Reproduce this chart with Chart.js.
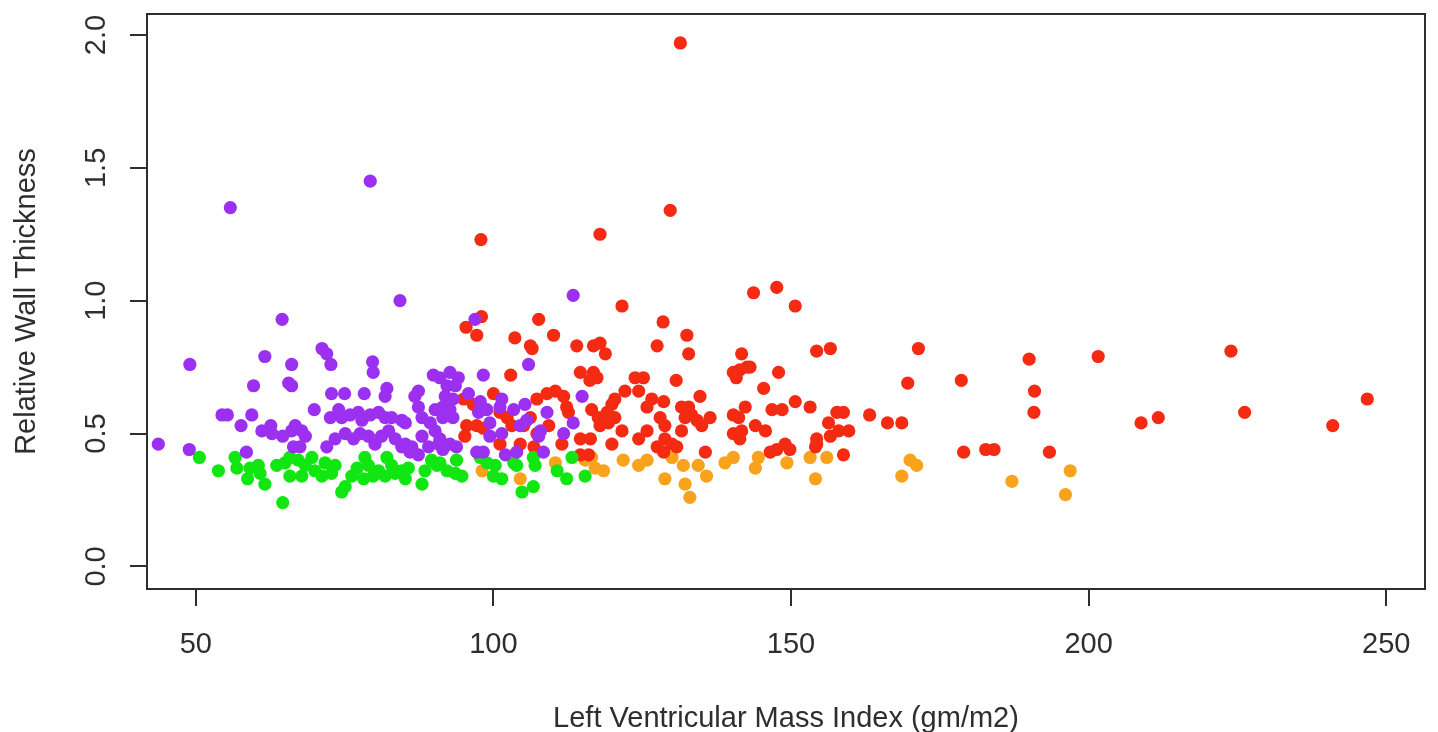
<!DOCTYPE html>
<html>
<head>
<meta charset="utf-8">
<script src="https://cdn.jsdelivr.net/npm/chart.js@4/dist/chart.umd.min.js"></script>
<style>
    body { margin: 0; background: #fff; }
    canvas { display: block; }
</style>
</head>
<body>
<canvas id="myChart" width="1438" height="732"></canvas>
<script>
// [LVMI, RWT] pairs, one array per group
const purplePts = [
    [55.8, 1.35], [79.3, 1.45], [84.3, 1.00], [113.4, 1.02], [64.5, 0.93], [96.9, 0.93],
    [49.0, 0.76], [61.6, 0.79], [66.1, 0.76], [59.7, 0.68], [65.6, 0.69], [66.1, 0.68],
    [54.4, 0.57], [55.3, 0.57], [59.4, 0.57], [57.6, 0.53], [61.1, 0.51], [62.6, 0.53],
    [62.8, 0.50], [64.6, 0.49], [66.1, 0.51], [66.4, 0.45], [43.7, 0.46], [48.9, 0.44], [58.5, 0.43],
    [71.2, 0.82], [72.0, 0.80], [72.7, 0.76], [79.7, 0.77], [79.8, 0.73], [89.9, 0.72],
    [72.8, 0.65], [75.0, 0.65], [78.3, 0.65], [82.1, 0.67], [81.8, 0.64], [87.4, 0.66],
    [86.8, 0.64], [87.4, 0.60], [69.9, 0.59], [74.0, 0.59], [72.6, 0.56], [74.5, 0.56],
    [75.9, 0.57], [77.3, 0.58], [77.9, 0.55], [79.3, 0.57], [80.7, 0.58], [81.8, 0.56],
    [82.9, 0.56], [84.6, 0.55], [85.2, 0.54], [88.0, 0.56], [89.4, 0.54], [90.2, 0.59],
    [66.7, 0.53], [67.8, 0.51], [68.4, 0.49], [67.5, 0.45], [72.0, 0.45], [73.4, 0.48],
    [75.1, 0.50], [76.5, 0.48], [77.6, 0.50], [79.0, 0.49], [80.1, 0.46], [81.2, 0.49],
    [82.4, 0.51], [83.5, 0.48], [85.2, 0.46], [86.3, 0.45], [88.0, 0.49], [89.1, 0.45],
    [90.2, 0.51], [90.8, 0.46], [84.6, 0.45], [86.0, 0.43], [87.4, 0.42],
    [105.9, 0.76], [98.3, 0.72], [91.0, 0.71], [92.7, 0.73], [94.1, 0.71], [92.2, 0.68],
    [93.6, 0.68], [91.9, 0.64], [93.2, 0.63], [91.5, 0.60], [92.7, 0.59], [91.5, 0.56],
    [93.2, 0.56], [95.8, 0.65], [97.8, 0.62], [97.5, 0.58], [98.9, 0.59], [101.4, 0.63],
    [101.1, 0.60], [103.4, 0.59], [105.3, 0.61], [105.6, 0.55], [104.5, 0.53], [109.0, 0.58],
    [107.9, 0.51], [107.6, 0.49], [99.4, 0.54], [99.4, 0.49], [101.4, 0.50], [111.8, 0.50],
    [113.4, 0.54], [114.9, 0.64], [91.0, 0.48], [92.7, 0.46], [91.5, 0.44], [93.8, 0.45],
    [97.2, 0.43], [98.3, 0.43], [102.0, 0.42], [103.9, 0.43], [108.4, 0.43]
];

const greenPts = [
    [50.6, 0.41], [53.8, 0.36], [56.6, 0.41], [56.9, 0.37], [58.7, 0.33], [59.1, 0.37],
    [60.5, 0.38], [60.8, 0.35], [61.6, 0.31], [63.6, 0.38], [65.0, 0.39], [65.8, 0.41],
    [65.8, 0.34], [64.6, 0.24],
    [67.2, 0.40], [68.4, 0.38], [67.8, 0.34], [69.5, 0.41], [70.0, 0.36], [71.7, 0.39],
    [71.2, 0.34], [72.8, 0.35], [73.4, 0.38], [75.1, 0.30], [74.5, 0.28], [76.2, 0.34],
    [77.1, 0.37], [78.4, 0.41], [79.0, 0.38], [78.2, 0.33], [79.8, 0.34], [80.7, 0.36],
    [82.1, 0.41], [82.9, 0.38], [81.8, 0.34], [83.5, 0.35], [84.6, 0.36], [85.7, 0.37],
    [85.2, 0.33], [88.0, 0.31], [88.5, 0.36], [89.6, 0.40], [90.5, 0.38],
    [91.0, 0.39], [92.2, 0.36], [93.8, 0.40], [93.6, 0.35], [94.7, 0.34], [97.8, 0.41],
    [98.9, 0.39], [100.3, 0.38], [100.0, 0.34], [101.4, 0.33], [103.4, 0.39], [103.9, 0.38],
    [104.8, 0.28], [106.7, 0.30], [106.7, 0.41], [107.0, 0.38], [110.7, 0.36], [112.3, 0.33],
    [113.2, 0.41], [115.4, 0.34]
];

const redPts = [
    [131.4, 1.97], [129.7, 1.34], [117.9, 1.25], [97.9, 1.23], [121.6, 0.98], [143.7, 1.03],
    [147.6, 1.05], [150.7, 0.98], [98.0, 0.94], [95.4, 0.90], [97.2, 0.87], [107.6, 0.93], [128.5, 0.92],
    [103.6, 0.86], [106.2, 0.83], [106.5, 0.82], [110.1, 0.87], [114.0, 0.83], [102.9, 0.72],
    [114.6, 0.73], [95.0, 0.63], [96.6, 0.61], [100.0, 0.65], [101.1, 0.58], [102.3, 0.56],
    [103.1, 0.53], [95.5, 0.53], [97.2, 0.53], [98.3, 0.52], [95.2, 0.49], [107.3, 0.63],
    [109.0, 0.65], [110.4, 0.66], [111.8, 0.64], [112.3, 0.60], [112.6, 0.58], [106.2, 0.56],
    [105.1, 0.53], [109.3, 0.53], [107.3, 0.50], [106.8, 0.45], [101.1, 0.46], [104.5, 0.46],
    [114.6, 0.48], [114.6, 0.42], [111.5, 0.46],
    [132.5, 0.87], [116.8, 0.83], [117.9, 0.84], [118.8, 0.80], [127.5, 0.83], [132.8, 0.80],
    [116.8, 0.73], [116.2, 0.70], [117.4, 0.71], [123.8, 0.71], [125.2, 0.71], [124.4, 0.66],
    [122.1, 0.66], [130.7, 0.70], [134.7, 0.64], [120.4, 0.63], [119.9, 0.61], [119.1, 0.58],
    [120.4, 0.56], [116.5, 0.59], [117.6, 0.56], [117.9, 0.53], [119.3, 0.54], [121.6, 0.51],
    [119.9, 0.46], [116.3, 0.48], [116.0, 0.42], [126.6, 0.63], [128.6, 0.62], [125.8, 0.60],
    [128.0, 0.56], [128.8, 0.53], [125.8, 0.51], [124.4, 0.48], [127.5, 0.45], [128.8, 0.48],
    [130.0, 0.46], [130.8, 0.45], [128.6, 0.43], [131.6, 0.51], [131.6, 0.60], [132.8, 0.60],
    [133.3, 0.57], [132.2, 0.56], [134.2, 0.55], [135.0, 0.53], [136.4, 0.56], [135.6, 0.43],
    [141.7, 0.80], [154.3, 0.81], [156.6, 0.82], [140.3, 0.73], [141.4, 0.74], [142.6, 0.75],
    [143.1, 0.75], [140.8, 0.71], [147.9, 0.73], [145.4, 0.67], [150.7, 0.62], [153.2, 0.60],
    [140.3, 0.57], [142.3, 0.60], [141.2, 0.56], [146.8, 0.59], [148.5, 0.59], [144.0, 0.53],
    [145.7, 0.51], [140.3, 0.50], [141.7, 0.51], [141.4, 0.48], [146.5, 0.43], [147.6, 0.44],
    [149.0, 0.46], [149.8, 0.44], [154.3, 0.46], [154.1, 0.45], [154.3, 0.48], [156.6, 0.49],
    [158.0, 0.51], [159.7, 0.51], [156.3, 0.54], [157.7, 0.58], [158.8, 0.58], [158.8, 0.42],
    [163.2, 0.57], [171.4, 0.82], [169.6, 0.69], [178.6, 0.70], [166.2, 0.54], [168.6, 0.54],
    [179.0, 0.43], [182.7, 0.44], [184.1, 0.44], [190.0, 0.78], [190.9, 0.66], [190.8, 0.58],
    [193.4, 0.43], [201.6, 0.79], [208.8, 0.54], [211.7, 0.56], [223.9, 0.81], [226.2, 0.58],
    [241.0, 0.53], [246.8, 0.63]
];

const orangePts = [
    [98.1, 0.36], [104.5, 0.33], [110.4, 0.39], [115.4, 0.40], [116.5, 0.41], [117.1, 0.37],
    [118.5, 0.36], [121.8, 0.40], [124.4, 0.38], [125.8, 0.40], [128.8, 0.33], [130.0, 0.41],
    [131.9, 0.38], [132.2, 0.31], [133.0, 0.26], [134.4, 0.38], [135.8, 0.34], [138.9, 0.39],
    [140.3, 0.41], [144.5, 0.41], [144.0, 0.37], [149.3, 0.39], [153.2, 0.41], [154.1, 0.33],
    [156.0, 0.41], [170.0, 0.40], [171.1, 0.38], [168.6, 0.34], [187.1, 0.32], [196.9, 0.36],
    [196.1, 0.27]
];

const xTicks = [50, 100, 150, 200, 250];
const yTicks = [0, 0.5, 1.0, 1.5, 2.0];

const xTitle = 'Left Ventricular Mass Index (gm/m2)';
const yTitle = 'Relative Wall Thickness';

const inkColor = '#2e2e2e';
const axisFont = { family: "'Liberation Sans', Arial, sans-serif", size: 29 };

function toPoints(pairs) {
    return pairs.map(p => ({ x: p[0], y: p[1] }));
}

function makeSet(pairs, color) {
    return {
        data: toPoints(pairs),
        backgroundColor: color,
        borderWidth: 0,
        pointRadius: 6.6,
        pointHoverRadius: 6.6
    };
}

// R-style box round the plot area
const boxPlugin = {
    id: 'box',
    afterDraw(chart) {
        const { ctx, chartArea: a } = chart;
        ctx.save();
        ctx.strokeStyle = inkColor;
        ctx.lineWidth = 2;
        ctx.strokeRect(a.left, a.top, a.right - a.left, a.bottom - a.top);
        ctx.restore();
    }
};

const ctx = document.getElementById('myChart').getContext('2d');

new Chart(ctx, {
    type: 'scatter',
    data: {
        datasets: [
            makeSet(purplePts, '#9b30f0'),
            makeSet(greenPts, '#12e612'),
            makeSet(redPts, '#f42a12'),
            makeSet(orangePts, '#f9a21c')
        ]
    },
    options: {
        responsive: false,
        animation: false,
        events: [],
        layout: { padding: { top: 14, right: 13, left: 0, bottom: 0 } },
        plugins: {
            legend: { display: false },
            tooltip: { enabled: false }
        },
        scales: {
            x: {
                type: 'linear',
                min: 41.8,
                max: 256.5,
                afterBuildTicks: s => { s.ticks = xTicks.map(v => ({ value: v })); },
                afterFit: s => { s.height = 143; s.paddingLeft = 0; s.paddingRight = 0; },
                ticks: {
                    color: inkColor,
                    font: axisFont,
                    padding: 22,
                    maxRotation: 0,
                    callback: v => String(v)
                },
                grid: {
                    display: true,
                    drawOnChartArea: false,
                    tickLength: 17,
                    color: inkColor,
                    lineWidth: 2
                },
                border: { display: true, color: inkColor, width: 2 },
                title: {
                    display: true,
                    text: xTitle,
                    color: inkColor,
                    font: axisFont,
                    padding: { top: 0, bottom: -4 }
                }
            },
            y: {
                type: 'linear',
                min: -0.085,
                max: 2.079,
                afterBuildTicks: s => { s.ticks = yTicks.map(v => ({ value: v })); },
                afterFit: s => { s.width = 147; s.paddingTop = 0; s.paddingBottom = 0; },
                ticks: {
                    color: inkColor,
                    font: axisFont,
                    padding: 13,
                    minRotation: 90,
                    maxRotation: 90,
                    crossAlign: 'center',
                    callback: v => v.toFixed(1)
                },
                grid: {
                    display: true,
                    drawOnChartArea: false,
                    tickLength: 17,
                    color: inkColor,
                    lineWidth: 2
                },
                border: { display: true, color: inkColor, width: 2 },
                title: {
                    display: true,
                    text: yTitle,
                    color: inkColor,
                    font: axisFont,
                    padding: { top: 10, bottom: 0 }
                }
            }
        }
    },
    plugins: [boxPlugin]
});
</script>
</body>
</html>
